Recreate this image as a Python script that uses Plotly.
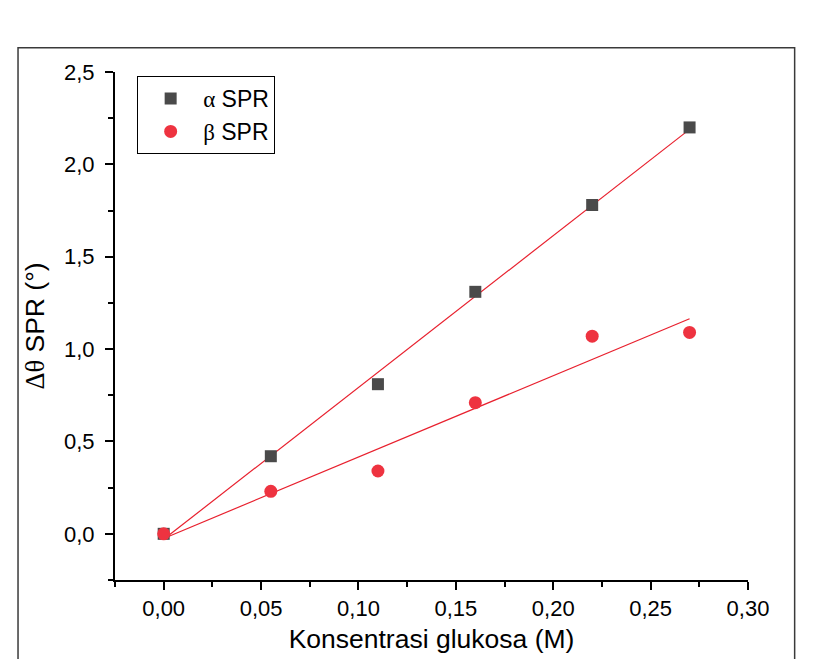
import numpy as np
import plotly.graph_objects as go

conc = [0.0, 0.055, 0.11, 0.16, 0.22, 0.27]
alpha_spr = [0.0, 0.42, 0.81, 1.31, 1.78, 2.20]
beta_spr = [0.0, 0.23, 0.34, 0.71, 1.07, 1.09]
series_names = ["α SPR", "β SPR"]

SANS = "Liberation Sans, Arial, sans-serif"
SERIF = "Liberation Serif, Times New Roman, serif"

def legend_name(n):
    g, rest = n.split(" ", 1)
    return f"<span style='font-family:{SERIF}'>{g}</span> {rest}"

fig = go.Figure()
xs = np.array(conc)
fit_x = [conc[0], conc[-1]]
for ys in (alpha_spr, beta_spr):
    m, b = np.polyfit(xs, np.array(ys), 1)
    fig.add_trace(go.Scatter(x=fit_x, y=[m * v + b for v in fit_x], mode="lines",
                             line=dict(color="#e8202e", width=1.2), showlegend=False,
                             hoverinfo="skip"))

fig.add_trace(go.Scatter(x=conc, y=alpha_spr, mode="markers", name=legend_name(series_names[0]),
                         marker=dict(symbol="square", size=12, color="#4a4a4a")))
fig.add_trace(go.Scatter(x=conc, y=beta_spr, mode="markers", name=legend_name(series_names[1]),
                         marker=dict(symbol="circle", size=13, color="#ee3340")))

axis_common = dict(showline=True, linecolor="black", linewidth=2, ticks="outside",
                   ticklen=8, tickwidth=2, tickcolor="black", showgrid=False, zeroline=False,
                   tickfont=dict(family=SANS, size=22, color="black"), mirror=False,
                   automargin=False)

fig.update_xaxes(range=[-0.025, 0.30], tickvals=[0, 0.05, 0.10, 0.15, 0.20, 0.25, 0.30],
                 tickformat=".2f", ticklabelstandoff=0,
                 minor=dict(tickvals=[-0.025, 0.025, 0.075, 0.125, 0.175, 0.225, 0.275],
                            ticks="outside", ticklen=5, tickwidth=2, tickcolor="black"),
                 title=dict(text="Konsentrasi glukosa (M)", font=dict(family=SANS, size=26.5, color="black"),
                            standoff=9),
                 **axis_common)
fig.update_yaxes(range=[-0.25, 2.5], tickvals=[0, 0.5, 1.0, 1.5, 2.0, 2.5], tickformat=".1f",
                 ticklabelstandoff=6,
                 minor=dict(tickvals=[-0.25, 0.25, 0.75, 1.25, 1.75, 2.25],
                            ticks="outside", ticklen=5, tickwidth=2, tickcolor="black"),
                 title=dict(text=f"<span style='font-family:{SERIF}'>Δθ</span> SPR (°)",
                            font=dict(family=SANS, size=26.5, color="black"), standoff=12),
                 **axis_common)

# outer frame
fig.add_shape(type="rect", xref="paper", yref="paper", x0=-0.1532, x1=1.0737, y0=-0.2, y1=1.0479,
              line=dict(color="#3a3a3a", width=1.5), fillcolor="rgba(0,0,0,0)", layer="below")

fig.update_layout(
    width=826, height=659,
    margin=dict(l=115, r=78, t=72, b=79),
    paper_bgcolor="white", plot_bgcolor="white",
    separators=",.",
    font=dict(family=SANS, color="black"),
    legend=dict(x=0.035, y=0.992, xanchor="left", yanchor="top",
                bordercolor="black", borderwidth=1, bgcolor="white",
                font=dict(family=SANS, size=23, color="black"),
                tracegroupgap=0, itemwidth=55),
)

fig.write_html("out.html")
